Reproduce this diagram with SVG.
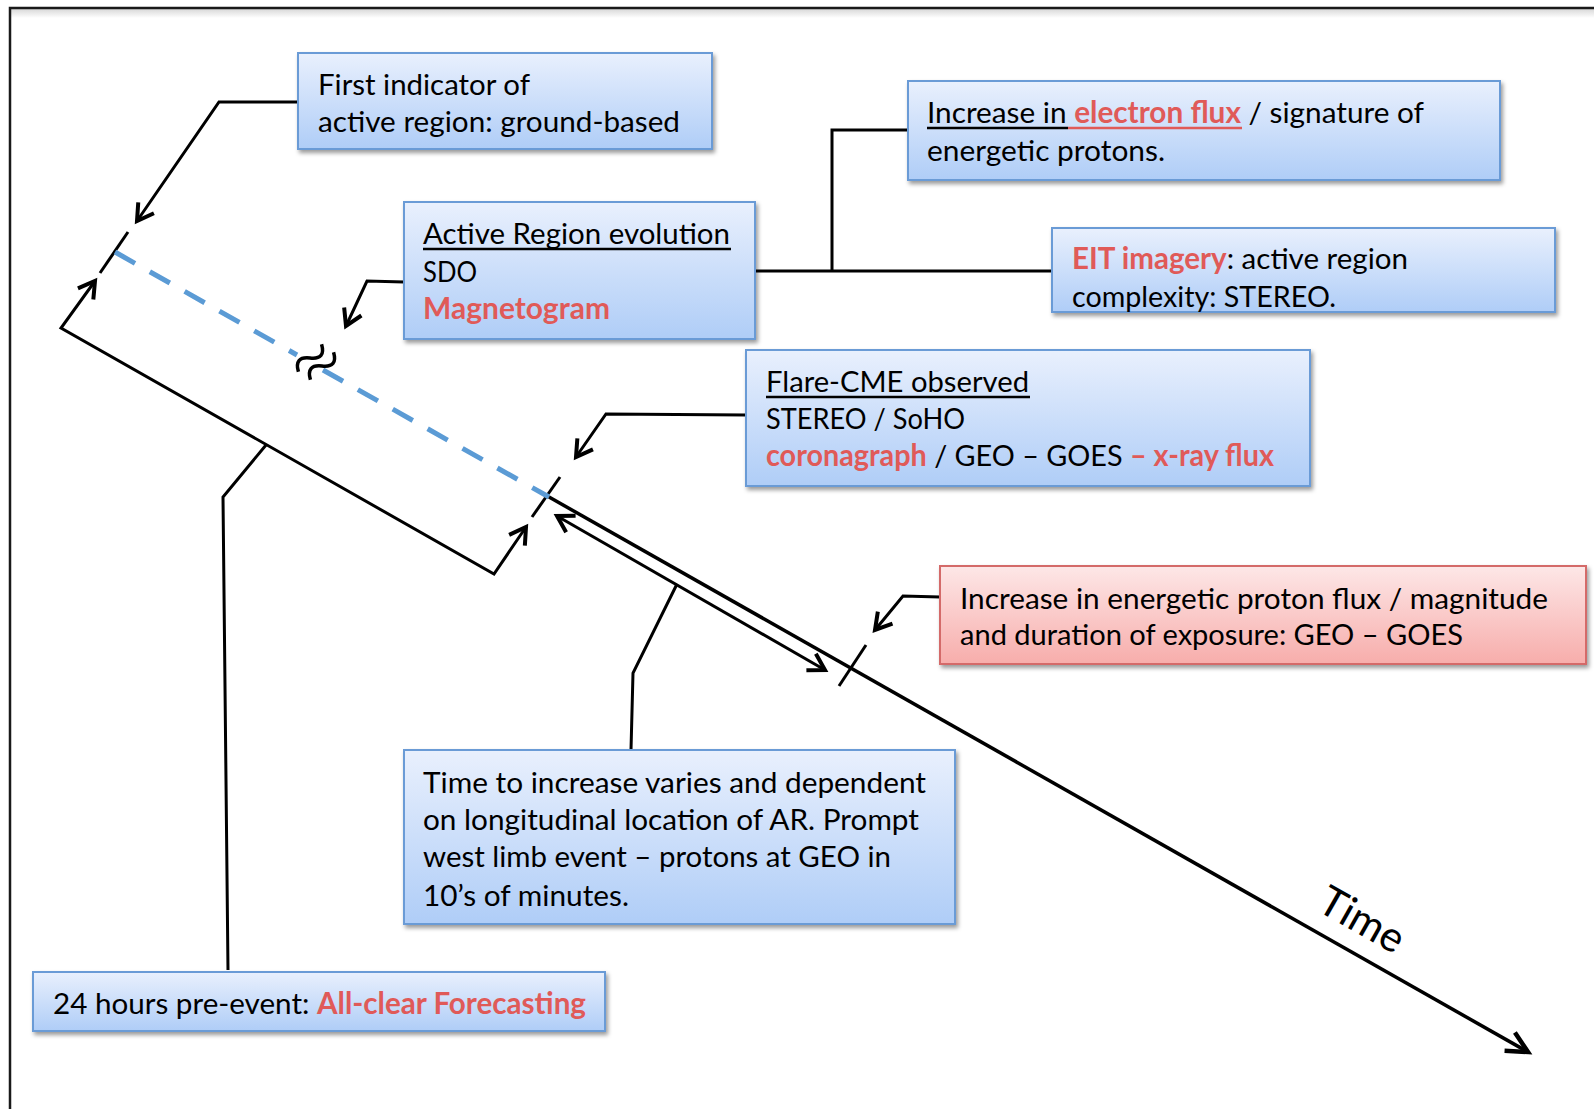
<svg xmlns="http://www.w3.org/2000/svg" width="1594" height="1109" viewBox="0 0 1594 1109">
  <defs>
    <linearGradient id="gBlue" x1="0" y1="0" x2="0" y2="1">
      <stop offset="0" stop-color="#e9f0fd"/>
      <stop offset="1" stop-color="#afcdf7"/>
    </linearGradient>
    <linearGradient id="gRed" x1="0" y1="0" x2="0" y2="1">
      <stop offset="0" stop-color="#fde7e7"/>
      <stop offset="1" stop-color="#f7adab"/>
    </linearGradient>
    <linearGradient id="gTopShade" x1="0" y1="0" x2="0" y2="1">
      <stop offset="0" stop-color="#d8d8d8"/>
      <stop offset="1" stop-color="#ffffff"/>
    </linearGradient>
    <filter id="shadow" x="-5%" y="-10%" width="112%" height="130%">
      <feDropShadow dx="2" dy="3" stdDeviation="2.2" flood-color="#000" flood-opacity="0.4"/>
    </filter>
    <marker id="arrowLg" markerUnits="userSpaceOnUse" markerWidth="40" markerHeight="40" viewBox="-30 -20 40 40" refX="0" refY="0" orient="auto-start-reverse">
      <path d="M -21 -10.5 L 0 0 L -21 10.5" fill="none" stroke="#000" stroke-width="4.5"/>
    </marker>
    <marker id="arrowSm" markerUnits="userSpaceOnUse" markerWidth="40" markerHeight="40" viewBox="-30 -20 40 40" refX="0" refY="0" orient="auto-start-reverse">
      <path d="M -16 -9.5 L 0 0 L -16 9.5" fill="none" stroke="#000" stroke-width="4"/>
    </marker>
    <style>
      .box { fill: url(#gBlue); stroke: #6b9bd6; stroke-width: 2; filter: url(#shadow); }
      .boxRed { fill: url(#gRed); stroke: #d46b69; stroke-width: 2; filter: url(#shadow); }
      .t { font-family: Lato, "Open Sans", "Liberation Sans", sans-serif; font-size: 29.5px; fill: #000; }
      .r { fill: #e05a58; font-weight: bold; }
      .ul { stroke: #000; stroke-width: 2.5; }
      .ulr { stroke: #e05a58; stroke-width: 2.5; }
      .ln { stroke: #000; stroke-width: 3; fill: none; }
      .axis { stroke: #000; stroke-width: 3.5; fill: none; }
      .tick { stroke: #000; stroke-width: 3; fill: none; }
      .dash { stroke: #5b9bd5; stroke-width: 5; fill: none; stroke-dasharray: 23 17; }
      .brk { stroke: #000; stroke-width: 3.5; fill: none; }
    </style>
  </defs>

  <!-- page frame -->
  <rect x="10" y="9" width="1600" height="9" fill="url(#gTopShade)"/>
  <rect x="10" y="8" width="1600" height="1120" fill="none" stroke="#1a1a1a" stroke-width="2.5"/>

  <!-- timeline and connectors -->
  <g id="connectors">
    <!-- dashed early part of the timeline, broken by the gap mark -->
    <line class="tick" x1="100" y1="273" x2="128" y2="232"/>
    <line class="tick" x1="532" y1="517" x2="560" y2="477"/>
    <line class="dash" x1="115" y1="252" x2="297" y2="355"/>
    <line class="dash" x1="323" y1="370" x2="549" y2="497"/>
    <g class="brk">
      <path d="M -18 0 C -12 -9, -6 -9, 0 0 S 12 9, 18 0" transform="translate(310 358) rotate(-50)"/>
      <path d="M -18 0 C -12 -9, -6 -9, 0 0 S 12 9, 18 0" transform="translate(322 366) rotate(-50)"/>
    </g>

    <!-- solid timeline with arrow -->
    <line class="axis" x1="549" y1="497" x2="1528" y2="1052" marker-end="url(#arrowLg)"/>
    <line class="tick" x1="839" y1="686" x2="866" y2="645"/>
    <text class="t" style="font-size:42px" transform="translate(1362 920) rotate(29.5)" x="0" y="14" text-anchor="middle">Time</text>

    <!-- 24-hour bracket -->
    <path class="ln" d="M 95 281 L 61 328 L 494 574 L 526 527" marker-start="url(#arrowSm)" marker-end="url(#arrowSm)"/>
    <path class="ln" d="M 266 445 L 223 497 L 228 970"/>

    <!-- propagation interval -->
    <line class="ln" x1="557" y1="516" x2="825" y2="670" marker-start="url(#arrowSm)" marker-end="url(#arrowSm)"/>
    <path class="ln" d="M 677 584 L 633 673 L 631 750"/>

    <!-- box leaders -->
    <path class="ln" d="M 298 102 L 219 102 L 137 221" marker-end="url(#arrowSm)"/>
    <path class="ln" d="M 404 282 L 367 281 L 346 326" marker-end="url(#arrowSm)"/>
    <path class="ln" d="M 746 415 L 606 414 L 576 457" marker-end="url(#arrowSm)"/>
    <path class="ln" d="M 940 597 L 903 596 L 875 630" marker-end="url(#arrowSm)"/>
    <path class="ln" d="M 755 271 L 1052 271"/>
    <path class="ln" d="M 832 271 L 832 130 L 908 130"/>
  </g>

  <!-- nodes -->
  <g id="first-indicator">
    <rect class="box" x="298" y="53" width="414" height="96"/>
    <text class="t" x="318" y="95" textLength="212" lengthAdjust="spacingAndGlyphs">First indicator of</text>
    <text class="t" x="318" y="132" textLength="362" lengthAdjust="spacingAndGlyphs">active region: ground-based</text>
  </g>

  <g id="ar-evolution">
    <rect class="box" x="404" y="202" width="351" height="137"/>
    <text class="t" x="423" y="244" textLength="307" lengthAdjust="spacingAndGlyphs">Active Region evolution</text>
    <line class="ul" x1="423" y1="249" x2="731" y2="249"/>
    <text class="t" x="423" y="282" textLength="54" lengthAdjust="spacingAndGlyphs">SDO</text>
    <text class="t" x="423" y="319" textLength="187" lengthAdjust="spacingAndGlyphs"><tspan class="r">Magnetogram</tspan></text>
  </g>

  <g id="electron-flux">
    <rect class="box" x="908" y="81" width="592" height="99"/>
    <text class="t" x="927" y="123" textLength="497" lengthAdjust="spacingAndGlyphs">Increase in <tspan class="r">electron flux</tspan> / signature of</text>
    <line class="ul" x1="927" y1="128" x2="1068" y2="128"/>
    <line class="ulr" x1="1068" y1="128" x2="1242" y2="128"/>
    <text class="t" x="927" y="161" textLength="238" lengthAdjust="spacingAndGlyphs">energetic protons.</text>
  </g>

  <g id="eit-imagery">
    <rect class="box" x="1052" y="228" width="503" height="84"/>
    <text class="t" x="1072" y="269" textLength="336" lengthAdjust="spacingAndGlyphs"><tspan class="r">EIT imagery</tspan>: active region</text>
    <text class="t" x="1072" y="307" textLength="264" lengthAdjust="spacingAndGlyphs">complexity: STEREO.</text>
  </g>

  <g id="flare-cme">
    <rect class="box" x="746" y="350" width="564" height="136"/>
    <text class="t" x="766" y="392" textLength="263" lengthAdjust="spacingAndGlyphs">Flare-CME observed</text>
    <line class="ul" x1="766" y1="397" x2="1030" y2="397"/>
    <text class="t" x="766" y="429" textLength="199" lengthAdjust="spacingAndGlyphs">STEREO / SoHO</text>
    <text class="t" x="766" y="466" textLength="508" lengthAdjust="spacingAndGlyphs"><tspan class="r">coronagraph</tspan> / GEO – GOES <tspan class="r">– x-ray flux</tspan></text>
  </g>

  <g id="proton-flux">
    <rect class="boxRed" x="940" y="566" width="646" height="98"/>
    <text class="t" x="960" y="609" textLength="588" lengthAdjust="spacingAndGlyphs">Increase in energetic proton flux / magnitude</text>
    <text class="t" x="960" y="645" textLength="503" lengthAdjust="spacingAndGlyphs">and duration of exposure: GEO – GOES</text>
  </g>

  <g id="time-to-increase">
    <rect class="box" x="404" y="750" width="551" height="174"/>
    <text class="t" x="423" y="793" textLength="503" lengthAdjust="spacingAndGlyphs">Time to increase varies and dependent</text>
    <text class="t" x="423" y="830" textLength="496" lengthAdjust="spacingAndGlyphs">on longitudinal location of AR. Prompt</text>
    <text class="t" x="423" y="867" textLength="468" lengthAdjust="spacingAndGlyphs">west limb event – protons at GEO in</text>
    <text class="t" x="423" y="906" textLength="206" lengthAdjust="spacingAndGlyphs">10’s of minutes.</text>
  </g>

  <g id="all-clear">
    <rect class="box" x="33" y="972" width="572" height="59"/>
    <text class="t" x="53" y="1014" textLength="533" lengthAdjust="spacingAndGlyphs">24 hours pre-event: <tspan class="r">All-clear Forecasting</tspan></text>
  </g>
</svg>
